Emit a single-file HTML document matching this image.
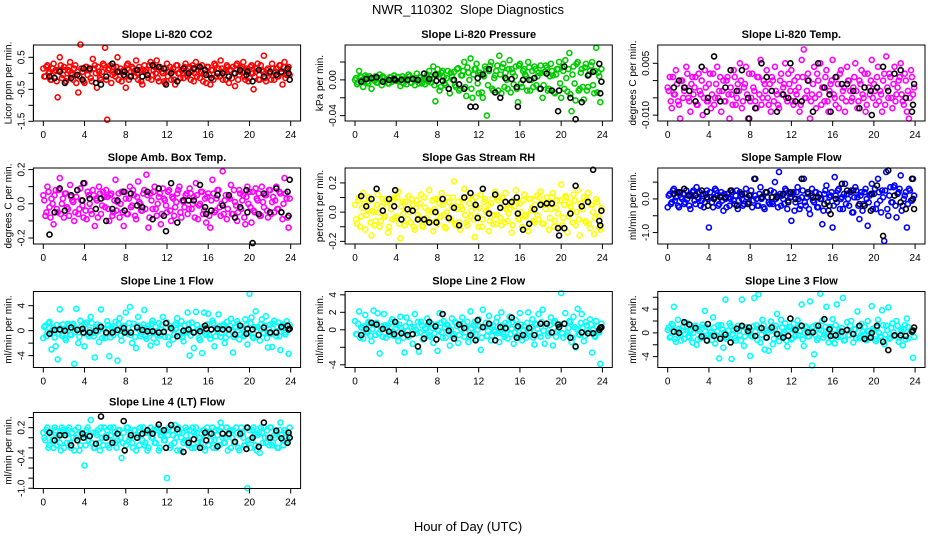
<!DOCTYPE html>
<html><head><meta charset="utf-8"><style>
html,body{margin:0;padding:0;background:#fff;}
svg{display:block;font-family:"Liberation Sans",sans-serif;}
</style></head><body>
<svg id="chart" width="936" height="540" viewBox="0 0 936 540" xmlns="http://www.w3.org/2000/svg">
<rect x="0" y="0" width="936" height="540" fill="#fff"/>
<text x="468" y="14" font-size="13" text-anchor="middle">NWR_110302&#160; Slope Diagnostics</text>
<text x="468" y="531" font-size="13" text-anchor="middle">Hour of Day (UTC)</text>
</svg>
<script>
const hoursColored=[0.0,0.2,0.4,0.6,0.8,1.0,1.2,1.4,1.6,1.8,2.0,2.2,2.4,2.6,2.8,3.0,3.2,3.4,3.6,3.8,4.0,4.2,4.4,4.6,4.8,5.0,5.2,5.4,5.6,5.8,6.0,6.2,6.4,6.6,6.8,7.0,7.2,7.4,7.6,7.8,8.0,8.2,8.4,8.6,8.8,9.0,9.2,9.4,9.6,9.8,10.0,10.2,10.4,10.6,10.8,11.0,11.2,11.4,11.6,11.8,12.0,12.2,12.4,12.6,12.8,13.0,13.2,13.4,13.6,13.8,14.0,14.2,14.4,14.6,14.8,15.0,15.2,15.4,15.6,15.8,16.0,16.2,16.4,16.6,16.8,17.0,17.2,17.4,17.6,17.8,18.0,18.2,18.4,18.6,18.8,19.0,19.2,19.4,19.6,19.8,20.0,20.2,20.4,20.6,20.8,21.0,21.2,21.4,21.6,21.8,22.0,22.2,22.4,22.6,22.8,23.0,23.2,23.4,23.6,23.8];
const hoursColored2=[0.1,0.3,0.5,0.7,0.9,1.1,1.3,1.5,1.7,1.9,2.1,2.3,2.5,2.7,2.9,3.1,3.3,3.5,3.7,3.9,4.1,4.3,4.5,4.7,4.9,5.1,5.3,5.5,5.7,5.9,6.1,6.3,6.5,6.7,6.9,7.1,7.3,7.5,7.7,7.9,8.1,8.3,8.5,8.7,8.9,9.1,9.3,9.5,9.7,9.9,10.1,10.3,10.5,10.7,10.9,11.1,11.3,11.5,11.7,11.9,12.1,12.3,12.5,12.7,12.9,13.1,13.3,13.5,13.7,13.9,14.1,14.3,14.5,14.7,14.9,15.1,15.3,15.5,15.7,15.9,16.1,16.3,16.5,16.7,16.9,17.1,17.3,17.5,17.7,17.9,18.1,18.3,18.5,18.7,18.9,19.1,19.3,19.5,19.7,19.9,20.1,20.3,20.5,20.7,20.9,21.1,21.3,21.5,21.7,21.9,22.1,22.3,22.5,22.7,22.9,23.1,23.3,23.5,23.7,23.9];
const hoursBlack=[0.6,1.1,1.6,2.1,2.7,3.3,3.8,3.9,4.5,5.1,5.6,6.1,6.7,7.2,7.8,7.9,8.5,9.1,9.6,10.1,10.6,11.2,11.7,11.9,12.4,13.0,13.6,14.1,14.6,15.2,15.7,15.8,16.3,16.9,17.4,18.0,18.6,19.1,19.7,19.8,20.3,20.9,21.4,22.0,22.6,23.1,23.7,23.8,23.9];
const xTicks=[0,4,8,12,16,20,24];

const co2Vals=[0.15,-0.1,0.25,0.05,-0.2,0.3,0.1,-0.75,0.5,-0.15, 0.2,-0.25,0.1,0.35,-0.05,0.15,-0.3,-0.6,0.9,0.05, -0.3,0.2,0.1,-0.15,0.45,0.25,-0.45,0.05,-0.2,0.3, 0.8,-1.45,0.15,-0.3,0.2,-0.1,0.5,0.05,-0.25,0.1, -0.45,0.3,-0.1,0.2,0.05,0.4,-0.2,0.1,-0.35,0.25, 0.1,-0.15,0.35,-0.05,0.2,0.4,-0.25,0.15,0.0,-0.3, 0.3,0.05,-0.2,0.15,-0.35,0.25,0.0,0.1,-0.15,0.3, -0.1,0.2,0.05,-0.25,0.35,0.1,-0.15,0.25,0.0,-0.3, 0.2,-0.35,0.1,0.3,-0.1,0.15,0.4,-0.2,0.05,0.25, -0.3,0.1,0.2,-0.4,0.3,-0.05,0.15,0.35,-0.2,0.1, -0.15,0.25,-0.5,0.05,0.3,-0.2,0.1,0.55,-0.25,0.15, 0.0,0.3,-0.2,0.15,-0.1,0.25,-0.35,0.35,-0.05,0.2];
const co2Core=[-0.1,0.2,0.0,-0.2,0.15,0.05,-0.25,0.1,0.25,-0.05, 0.1,-0.15,0.2,0.0,-0.2,0.25,0.05,-0.1,0.15,-0.25, 0.2,-0.05,0.1,-0.25,0.15,0.0,0.2,-0.15,0.05,0.25, -0.2,0.1,0.25,-0.05,0.0,0.2,-0.2,0.15,0.05,-0.1, 0.25,-0.2,0.05,0.15,-0.1,0.0,0.2,-0.25,0.1,0.05, -0.05,0.25,-0.2,0.1,0.0,-0.15,0.2,0.05,-0.25,0.15, -0.1,0.2,0.05,-0.2,0.25,0.0,-0.15,0.1,0.2,-0.05, 0.15,-0.2,0.25,0.0,-0.1,0.2,0.05,-0.25,0.1,0.2, -0.05,0.1,-0.2,0.25,0.0,-0.1,0.15,0.05,-0.2,0.2, 0.1,-0.15,0.0,0.25,-0.2,0.05,0.2,-0.1,0.15,-0.25, 0.2,0.0,-0.1,0.15,-0.2,0.25,0.05,-0.15,0.1,0.0, -0.2,0.15,0.05,-0.1,0.25,0.0,0.2,-0.15,0.1,-0.05];
const co2Black=[-0.1,-0.15,0.05,-0.3,-0.15,-0.05,-0.2,0.15,0.15,-0.3,-0.35,-0.1,0.3,0.05,-0.05,0.05,-0.1,0.1,-0.1,-0.05,0.25,0.2,0.15,-0.35,0.0,-0.25,0.15,0.0,0.15,0.2,0.1,-0.05,-0.15,0.0,0.0,-0.1,0.0,0.1,-0.05,0.05,-0.25,0.1,-0.1,0.05,-0.05,0.05,0.15,0.0,-0.2];

const presVals=[0.0,-0.005,0.01,0.003,-0.008,0.005,-0.002,0.004,-0.01,0.002, 0.004,-0.003,0.006,-0.006,0.002,0.0,-0.004,0.003,-0.002,0.005, -0.001,0.003,-0.007,0.004,0.001,-0.005,0.006,-0.003,0.002,-0.006, 0.007,-0.004,0.003,0.001,-0.005,0.006,0.01,-0.003,0.015,-0.024, 0.012,-0.012,0.008,0.003,-0.006,0.01,-0.015,0.004,0.009,-0.008, 0.013,-0.01,0.005,0.02,-0.018,0.008,0.024,-0.02,0.012,0.018, -0.015,0.006,-0.02,0.015,-0.04,0.01,0.02,-0.012,0.005,0.016, 0.027,-0.015,0.018,0.008,-0.01,0.022,0.012,-0.005,0.015,-0.025, 0.018,-0.008,0.012,0.004,0.02,-0.012,0.01,0.015,-0.006,0.008, 0.016,-0.02,0.009,0.014,-0.01,0.018,0.005,-0.015,0.012,0.02, -0.02,0.01,0.022,-0.013,0.03,-0.035,0.015,-0.023,0.02,-0.01, 0.012,-0.022,0.018,-0.008,0.01,0.02,-0.015,0.036,0.008,-0.025];
const presCore=[0.002,-0.003,0.004,0.0,-0.002,0.003,-0.004,0.001,0.002,-0.001, -0.003,0.002,0.0,0.004,-0.002,0.001,-0.004,0.003,0.0,-0.001, 0.003,-0.002,0.001,-0.004,0.002,0.0,0.004,-0.003,0.001,0.002, -0.001,0.003,-0.004,0.002,0.0,-0.002,0.004,0.001,-0.006,0.005, 0.006,-0.008,0.01,-0.004,0.002,-0.01,0.008,0.0,-0.006,0.012, -0.012,0.005,0.01,-0.008,0.014,0.0,-0.01,0.006,0.012,-0.004, 0.008,-0.014,0.004,0.012,-0.006,0.016,-0.01,0.002,0.01,-0.012, 0.006,0.014,-0.008,0.0,0.012,-0.014,0.008,0.004,-0.01,0.016, -0.004,0.01,0.006,-0.012,0.014,0.0,-0.008,0.012,0.004,-0.01, 0.008,-0.006,0.016,-0.012,0.004,0.01,-0.014,0.006,0.012,-0.004, 0.014,-0.01,0.002,0.012,-0.016,0.006,-0.004,0.018,-0.012,0.008, -0.008,0.014,-0.012,0.006,0.016,-0.006,0.01,-0.014,0.004,0.012];
const presBlack=[-0.002,0.001,0.002,0.003,-0.002,0.0,0.001,0.0,0.0,0.0,0.001,0.0,0.007,0.001,0.006,-0.001,-0.001,-0.01,0.0,-0.005,-0.01,-0.03,-0.03,0.002,0.006,0.012,-0.014,-0.02,0.002,0.001,-0.008,-0.03,0.0,0.0,0.002,-0.01,0.007,-0.012,-0.035,-0.012,0.015,-0.02,-0.044,-0.025,0.005,0.009,0.018,-0.015,-0.002];

const liTempVals=[-0.002,0.001,-0.008,-0.004,0.003,-0.006,-0.011,0.0,-0.003,0.004, -0.005,-0.009,0.001,-0.002,-0.007,0.002,-0.004,-0.01,0.003,-0.006, -0.001,-0.008,0.002,-0.005,0.004,-0.003,-0.009,0.0,-0.006,0.001, -0.011,-0.004,0.003,-0.007,-0.001,0.005,-0.008,-0.002,0.004,-0.011, -0.006,0.002,-0.003,-0.008,0.001,0.006,-0.005,-0.001,0.003,-0.007, -0.009,0.0,0.004,-0.004,-0.008,0.002,-0.002,0.005,-0.006,-0.001, 0.003,-0.007,-0.003,0.001,-0.009,0.006,0.009,-0.005,0.002,-0.011, -0.004,0.004,-0.008,0.0,0.005,-0.002,-0.006,0.003,-0.009,-0.001, 0.006,-0.005,0.001,-0.008,0.003,-0.003,-0.009,0.004,0.0,-0.006, -0.002,0.005,-0.008,0.0,0.003,-0.005,-0.009,0.002,-0.004,0.006, -0.001,-0.007,0.004,-0.003,-0.009,0.002,0.007,-0.005,0.001,-0.008, 0.004,-0.004,0.0,0.005,-0.006,0.002,-0.009,-0.011,0.003,-0.004];
const liTempCore=[-0.003,-0.006,0.001,-0.004,-0.001,-0.007,0.0,-0.005,-0.002,0.002, -0.006,-0.001,-0.004,0.001,-0.007,-0.003,0.0,-0.005,-0.002,-0.006, 0.002,-0.004,-0.007,-0.001,-0.005,0.001,-0.003,-0.006,0.0,-0.004, -0.002,-0.007,0.001,-0.005,-0.003,0.0,-0.006,-0.001,-0.004,0.002, -0.005,-0.002,-0.006,0.001,-0.004,-0.007,0.0,-0.003,-0.005,-0.001, 0.001,-0.006,-0.003,-0.007,0.0,-0.004,-0.001,-0.005,0.002,-0.003, -0.006,0.0,-0.004,-0.002,-0.007,0.001,-0.005,-0.003,0.0,-0.006, -0.001,-0.005,0.002,-0.004,-0.007,-0.002,0.001,-0.006,-0.003,0.0, -0.004,-0.007,-0.001,0.002,-0.005,-0.002,-0.006,0.0,-0.003,-0.005, 0.001,-0.003,-0.006,-0.001,-0.004,0.002,-0.007,-0.002,0.0,-0.005, -0.003,0.001,-0.006,-0.004,0.0,-0.007,-0.002,0.002,-0.005,-0.001, -0.006,-0.002,0.001,-0.004,-0.007,0.0,-0.003,-0.005,0.001,-0.002];
const liTempBlack=[-0.002,0.0,-0.002,-0.003,-0.006,0.004,-0.009,-0.005,0.007,-0.006,-0.002,0.003,-0.003,0.003,-0.005,-0.011,-0.008,0.005,0.001,-0.003,-0.009,-0.004,-0.005,0.005,-0.006,-0.006,0.0,-0.009,0.005,-0.002,-0.004,-0.009,0.001,-0.001,-0.001,-0.003,-0.008,-0.002,-0.003,-0.01,-0.002,0.004,-0.003,0.002,0.003,-0.005,-0.009,-0.007,-0.001];

const ambVals=[0.05,-0.07,0.1,-0.02,0.03,-0.12,0.08,-0.05,0.15,0.0, -0.08,0.06,-0.03,0.11,0.02,-0.1,0.04,-0.06,0.09,-0.01, 0.12,-0.09,0.05,-0.04,0.08,-0.13,0.02,0.1,-0.06,0.07, -0.02,0.04,-0.1,0.06,-0.05,0.14,0.01,-0.08,0.07,-0.13, 0.03,-0.06,0.1,-0.01,0.05,-0.09,0.13,0.0,-0.04,0.08, 0.17,-0.14,0.06,-0.03,0.1,-0.07,0.04,-0.12,0.09,0.02, -0.05,0.08,-0.1,0.03,-0.02,0.06,0.1,-0.08,0.01,0.05, -0.06,0.09,-0.03,0.04,0.12,-0.09,0.0,0.07,-0.04,-0.11, 0.06,-0.14,0.14,-0.05,0.03,0.08,-0.07,0.19,0.02,-0.09, 0.04,0.11,-0.06,0.01,-0.1,0.08,-0.03,0.05,-0.12,0.1, 0.07,-0.11,-0.04,0.09,0.02,-0.07,0.1,-0.02,0.05,-0.08, 0.08,0.01,-0.05,0.1,-0.03,0.06,-0.09,0.15,0.03,-0.14];
const ambCore=[0.02,-0.05,0.07,-0.08,0.0,0.05,-0.03,0.08,-0.06,0.03, 0.06,-0.02,-0.07,0.04,0.01,-0.05,0.08,-0.03,0.02,-0.08, -0.04,0.07,0.0,-0.06,0.05,0.03,-0.08,0.06,-0.01,0.04, 0.08,-0.03,0.05,-0.07,0.02,-0.04,0.06,0.0,-0.05,0.07, -0.06,0.03,-0.02,0.08,-0.07,0.04,0.01,-0.04,0.06,-0.03, 0.05,-0.08,0.02,0.07,-0.03,0.0,0.06,-0.06,0.03,-0.01, 0.07,-0.04,0.04,-0.07,0.01,0.08,-0.05,0.02,-0.02,0.06, -0.03,0.06,0.0,-0.08,0.05,-0.01,0.07,-0.06,0.03,0.04, -0.07,0.02,0.06,-0.04,0.08,-0.02,0.0,-0.06,0.05,-0.03, 0.03,-0.06,0.08,-0.01,-0.05,0.06,0.02,-0.08,0.04,0.0, -0.02,0.07,-0.05,0.03,0.06,-0.07,0.01,0.05,-0.04,0.08, -0.06,0.04,0.02,-0.03,0.07,-0.05,0.0,0.06,-0.08,0.03];
const ambBlack=[-0.18,-0.05,0.09,-0.04,0.05,0.08,0.02,0.12,0.03,-0.03,0.03,-0.1,-0.03,0.02,0.07,-0.04,0.06,-0.01,-0.02,0.07,-0.09,0.09,-0.07,-0.16,0.12,-0.11,0.02,0.02,0.02,0.11,-0.02,-0.06,-0.04,0.05,-0.01,0.05,-0.08,-0.02,0.08,-0.05,-0.23,-0.06,0.06,-0.05,0.09,-0.05,0.07,-0.07,0.14];

const rhVals=[0.05,-0.08,0.1,-0.03,0.13,-0.12,0.02,0.08,-0.16,0.0, -0.06,0.12,-0.1,0.04,-0.02,0.09,-0.14,0.06,-0.05,0.1, -0.03,0.14,-0.18,0.07,-0.09,0.02,0.11,-0.07,0.05,-0.12, 0.08,-0.04,0.12,-0.1,0.03,-0.06,0.15,0.0,-0.13,0.09, -0.08,0.06,0.13,-0.02,-0.11,0.1,-0.05,0.04,0.21,-0.09, 0.07,-0.12,0.02,0.16,-0.07,0.11,-0.03,0.08,-0.17,0.04, -0.1,0.12,-0.05,0.09,0.01,-0.13,0.06,-0.08,0.14,-0.02, 0.1,-0.09,0.04,0.13,-0.06,0.02,-0.14,0.08,0.15,-0.04, 0.06,-0.1,0.12,-0.02,-0.13,0.09,0.03,-0.07,0.11,-0.05, 0.14,-0.08,0.05,0.1,-0.12,0.02,0.13,-0.06,0.08,-0.1, 0.19,-0.04,0.11,-0.14,0.06,0.0,0.12,-0.09,0.15,-0.16, 0.04,0.1,-0.07,0.13,-0.11,0.05,-0.15,0.09,-0.03,-0.12];
const rhCore=[-0.05,0.08,-0.1,0.03,0.06,-0.02,0.1,-0.07,0.01,-0.09, 0.05,0.0,-0.06,0.09,-0.03,0.07,-0.1,0.02,0.08,-0.04, 0.1,-0.08,0.04,-0.01,0.07,-0.05,0.0,0.09,-0.1,0.03, -0.02,0.06,-0.09,0.1,-0.04,0.01,-0.07,0.08,0.02,-0.06, 0.09,-0.03,0.05,-0.1,0.0,0.07,-0.05,0.1,-0.08,0.02, -0.07,0.04,0.09,-0.02,-0.09,0.06,0.01,-0.05,0.1,-0.03, 0.03,-0.1,0.07,0.0,0.05,-0.06,0.09,-0.02,-0.08,0.08, -0.04,0.1,-0.07,0.02,-0.01,0.06,-0.09,0.04,0.07,-0.05, 0.0,0.08,-0.03,-0.1,0.09,0.01,-0.06,0.05,-0.02,0.1, 0.06,-0.08,0.02,0.07,-0.04,0.1,-0.1,0.03,-0.01,0.08, -0.09,0.05,0.1,-0.03,0.04,-0.07,0.08,0.0,-0.05,0.06, 0.02,-0.06,0.09,-0.08,0.05,0.0,-0.04,0.07,-0.1,0.03];
const rhBlack=[0.11,0.04,0.09,0.16,0.01,0.09,0.04,0.15,-0.05,0.02,0.01,-0.05,-0.05,-0.07,0.0,-0.07,0.09,-0.04,0.03,-0.09,0.1,0.13,0.05,-0.04,0.16,-0.01,0.12,0.03,0.07,0.07,0.1,-0.01,-0.12,-0.08,0.02,0.05,0.06,0.06,-0.11,-0.16,-0.11,-0.01,0.18,0.04,0.07,0.29,-0.06,-0.09,0.01];

const sampleVals=[-0.25,0.15,-0.1,0.3,0.05,-0.2,0.2,0.0,-0.15,0.25, 0.1,-0.3,0.2,-0.05,0.35,0.0,-0.2,0.15,-0.1,0.25, -0.85,0.05,-0.25,0.3,0.1,-0.15,0.2,-0.35,0.0,0.15, -0.2,0.25,-0.05,0.1,-0.3,0.2,0.0,-0.15,0.3,-0.1, 0.1,-0.25,0.6,0.0,-0.2,0.35,0.05,-0.3,0.2,-0.1, 0.25,-0.15,0.5,0.1,0.8,-0.2,0.0,0.3,-0.3,0.15, -0.65,0.2,-0.1,0.35,-0.3,0.05,0.6,-0.2,0.15,-0.45, 0.3,-0.1,0.2,-0.25,0.0,-0.75,0.15,0.4,-0.35,0.1, -0.85,0.65,-0.1,0.3,0.0,-0.3,0.45,0.15,-0.2,0.25, -0.4,0.35,0.05,-0.6,0.2,-0.15,0.3,-0.8,0.1,0.45, 0.15,-0.3,0.6,-0.05,0.25,-1.25,0.8,-0.5,0.35,-0.1, 0.4,-0.55,0.2,0.7,-0.2,0.1,-0.85,0.3,-0.05,0.6];
const sampleCore=[0.1,-0.15,0.25,-0.05,0.2,-0.25,0.05,0.15,-0.1,0.0, -0.2,0.1,0.25,-0.15,0.05,0.2,-0.05,-0.25,0.15,0.0, 0.2,-0.1,0.05,0.25,-0.2,0.1,-0.05,0.15,-0.25,0.05, 0.0,0.2,-0.15,0.25,-0.05,0.1,-0.2,0.15,0.05,-0.1, 0.25,-0.05,0.1,-0.2,0.15,0.0,-0.25,0.2,0.05,-0.15, -0.1,0.2,0.0,-0.25,0.15,0.1,-0.15,0.25,-0.05,0.05, 0.15,-0.35,0.2,0.0,-0.2,0.25,-0.1,0.05,-0.3,0.1, -0.05,0.2,-0.25,0.15,0.0,-0.35,0.25,-0.1,0.05,0.2, -0.2,0.1,0.25,-0.3,0.05,0.15,-0.15,0.0,0.2,-0.4, 0.05,0.25,-0.2,0.1,-0.35,0.2,0.0,-0.1,0.15,-0.3, 0.3,-0.15,0.2,-0.4,0.05,0.25,-0.3,0.1,-0.1,0.35, -0.2,0.15,0.3,-0.35,0.0,0.2,-0.15,0.25,-0.05,0.1];
const sampleBlack=[0.15,0.2,0.3,0.1,0.1,0.25,0.05,-0.2,0.0,0.05,0.05,0.25,-0.2,0.15,-0.15,0.1,0.6,0.05,0.2,0.05,0.05,0.15,-0.1,0.2,0.0,0.6,0.2,0.05,0.05,-0.15,-0.2,-0.45,0.0,0.45,0.25,0.25,-0.15,-0.2,-0.35,0.15,0.4,-1.1,0.85,0.1,-0.1,-0.3,0.6,0.0,-0.3];

const line1Vals=[-1.2,0.8,-0.3,1.4,-3.0,0.5,-2.5,-4.6,3.4,-0.8, 0.3,-1.5,1.1,-0.6,0.9,-5.3,3.5,-2.0,1.6,0.2, -2.5,1.3,-0.9,2.2,-0.4,-4.3,1.0,-1.8,3.4,0.4, -1.2,1.5,-4.1,0.6,-0.7,1.4,-4.8,2.0,-1.6,0.7, 2.9,-0.5,3.8,-2.0,1.1,-2.8,2.2,-0.9,0.5,3.3, -1.3,0.8,-2.4,1.6,-0.2,-1.9,1.2,-0.6,2.2,-1.0, 1.3,-2.2,0.4,-1.4,0.9,2.0,-0.8,1.5,-1.7,-0.3, 2.9,-4.0,1.3,-2.8,3.0,0.2,-1.5,-3.6,2.9,-0.7, 2.7,-1.3,1.6,-2.5,0.3,2.6,-1.0,0.7,-2.0,1.4, -0.6,1.9,-3.5,0.5,1.5,-1.4,0.4,-0.9,1.8,-2.2, 5.9,2.1,-1.2,3.1,0.6,-1.6,1.8,-0.4,2.3,-2.7, 1.0,-2.6,1.6,-0.9,1.3,-3.1,0.7,-0.3,1.5,-3.7];
const line1Core=[0.6,-0.9,1.2,-0.3,0.2,-1.1,0.9,-0.5,0.0,1.0, -1.2,0.4,0.8,-0.7,1.1,-0.2,0.3,-1.0,0.7,-0.4, 1.0,-0.6,0.1,1.2,-0.9,0.5,-0.1,0.8,-1.2,0.3, -0.5,0.9,-1.1,0.2,0.6,-0.3,1.1,-0.8,0.0,0.7, -0.2,1.2,-0.7,0.4,-1.0,0.8,0.1,-0.5,1.0,-0.9, 0.3,-0.4,1.1,-1.2,0.6,0.0,-0.8,0.9,-0.1,0.5, -1.0,0.7,0.2,-0.6,1.2,-0.3,0.4,-1.1,0.8,0.0, 1.1,-0.8,0.5,-0.2,0.9,-1.2,0.3,0.6,-0.5,1.0, -0.7,0.2,1.2,-0.9,0.0,0.7,-0.4,1.0,-1.1,0.4, 0.8,-0.1,-1.0,0.5,1.1,-0.6,0.3,-0.8,0.9,-0.3, 1.2,-1.0,0.6,0.1,-0.7,1.0,-0.4,0.8,-1.2,0.2, -0.5,1.1,-0.2,0.7,-0.9,0.4,1.0,-0.6,0.0,0.9];
const line1Black=[-0.5,0.1,0.2,0.0,0.5,0.1,0.3,-0.3,-0.3,0.0,0.6,-0.3,-0.3,0.1,0.4,-0.3,-0.3,0.5,0.1,-0.1,-0.1,-0.3,-0.2,1.2,0.4,-0.9,0.0,0.2,-0.3,-0.1,0.8,0.3,0.2,0.3,0.2,0.2,-0.6,0.8,-0.5,0.3,0.2,-0.7,0.5,-0.3,-0.3,0.6,0.8,0.2,0.3];

const line2Vals=[1.0,-0.5,2.1,0.3,-1.0,1.7,-0.2,0.8,-1.3,2.2, -0.6,1.9,-2.7,0.4,1.8,-0.9,0.5,-0.3,1.2,-0.7, 0.6,-1.3,1.5,-0.2,-2.6,1.4,-0.8,0.3,-1.6,1.8, -0.4,-2.5,0.9,-1.1,0.2,1.3,-0.6,0.7,-1.5,0.4, -2.4,1.9,-0.3,1.0,-0.9,0.5,-1.8,1.3,-0.5,0.8, -1.5,0.6,1.4,-0.8,0.2,-1.4,2.1,-0.4,0.9,-1.1, 1.2,-2.3,2.3,0.3,-0.7,1.6,-1.2,0.5,-0.2,1.4, -1.4,2.0,-0.5,0.8,-1.0,1.5,0.1,-1.6,1.1,-0.6, 1.9,-1.2,0.4,-0.9,2.0,-0.3,1.2,-1.7,0.6,1.8, -0.8,2.3,-1.6,0.7,-0.4,1.4,-1.8,1.0,-0.2,0.5, 4.2,-0.9,1.9,-0.3,1.0,-1.4,1.5,-2.0,2.4,-0.6, 1.8,-1.3,0.9,-0.4,1.2,-2.6,-0.7,1.0,-0.2,-3.9];
const line2Core=[-0.5,0.7,-0.9,0.2,0.4,-0.3,0.9,-0.7,0.1,0.6, 0.8,-0.4,0.0,-0.8,0.5,0.3,-0.6,0.9,-0.2,0.1, -0.7,0.6,0.2,-0.9,0.4,-0.1,0.8,-0.5,0.3,0.0, 0.9,-0.3,0.5,-0.6,0.1,0.7,-0.8,0.2,-0.4,0.6, -0.1,0.8,-0.9,0.3,0.6,-0.2,0.0,-0.7,0.9,0.4, -0.6,0.1,0.7,-0.3,0.9,-0.8,0.2,0.5,-0.5,0.0, 0.4,-0.9,0.3,0.8,-0.1,0.6,-0.7,0.0,0.9,-0.4, -0.2,0.5,-0.8,0.1,0.7,-0.5,0.9,-0.3,0.2,-0.9, 0.6,0.0,-0.6,0.8,-0.2,0.3,-0.9,0.7,0.1,-0.4, 0.9,-0.1,0.4,-0.7,0.5,-0.3,0.8,-0.8,0.0,0.6, -0.4,0.7,-0.6,0.2,0.9,-0.9,0.3,0.1,-0.5,0.8, 0.2,-0.7,0.5,-0.2,0.6,0.0,-0.8,0.4,-0.3,0.7];
const line2Black=[-0.6,0.1,0.8,0.6,0.1,-0.2,-0.5,0.9,-0.4,-0.6,-0.5,-1.9,-1.0,0.9,0.4,-1.1,1.8,-0.1,-1.0,0.6,0.2,-0.6,-1.2,1.1,0.3,0.7,-1.2,0.3,0.2,1.4,-0.9,0.4,-0.6,0.2,-0.6,0.7,0.7,-0.3,0.6,0.3,0.7,-0.9,-1.9,-0.3,-0.4,-0.4,0.0,0.2,0.3];

const line3Vals=[0.5,-0.8,1.5,4.4,-1.5,2.2,-0.3,0.9,-1.0,1.7, -0.6,0.3,-1.6,1.2,-2.0,0.6,-0.9,1.4,3.7,-1.2, 0.8,-0.4,2.6,-1.8,0.2,-4.3,1.3,-2.5,5.6,-0.7, 1.6,-4.4,0.4,-1.3,1.2,-0.4,5.6,-2.2,1.0,0.2, -3.9,-0.6,5.9,1.3,6.5,-1.6,2.2,-2.8,0.4,-3.0, 1.9,-1.9,0.7,3.2,-1.4,2.2,-0.2,1.6,-2.3,1.0, -1.1,1.5,-0.5,2.1,0.3,4.8,-2.2,1.1,-0.6,5.3, -5.5,-3.6,1.3,-0.9,6.6,2.0,-0.3,4.4,-1.6,1.0, 2.3,-1.8,4.8,0.5,-0.7,5.9,-1.2,1.8,-0.4,2.0, -1.6,0.6,3.6,-0.9,1.5,-0.3,-1.2,2.0,-0.6,4.5, 0.4,-1.4,2.2,-0.6,3.8,-1.9,1.2,4.3,-0.8,1.6, -0.5,2.0,-1.5,0.6,-2.1,1.3,2.4,-0.9,0.3,-4.2];
const line3Core=[0.9,-0.6,1.3,-1.0,0.2,0.7,-1.3,0.4,-0.2,1.1, -0.8,0.5,0.0,1.2,-1.1,0.3,0.8,-0.5,1.0,-0.3, 0.1,-1.2,0.9,-0.4,1.3,-0.7,0.6,0.0,-1.0,0.4, 1.2,-0.2,-0.9,0.7,0.3,-1.3,1.0,-0.6,0.5,-0.1, -0.5,1.1,0.2,-1.2,0.8,-0.3,1.3,-0.8,0.0,0.6, 0.4,-1.0,1.2,-0.2,-0.7,0.9,0.1,-1.3,0.5,1.0, -0.9,0.3,0.7,-0.4,1.3,-1.1,0.0,0.8,-0.6,0.2, 1.1,-0.3,-1.2,0.6,0.4,-0.8,1.0,-0.1,0.9,-1.0, -0.2,1.3,-0.7,0.1,0.8,-1.3,0.5,-0.4,1.2,0.0, 0.6,-0.9,1.1,-0.5,0.2,1.0,-1.2,0.3,-0.1,0.7, -1.1,0.9,0.0,-0.6,1.3,-0.3,0.5,-1.0,0.8,0.1, -0.4,1.2,-0.8,0.3,0.6,-1.1,1.0,-0.2,0.4,-0.7];
const line3Black=[0.2,0.0,1.8,1.4,0.8,-0.6,-1.3,1.5,-0.5,-1.0,-0.3,-1.6,0.7,1.2,0.3,0.9,-0.5,0.8,-0.8,0.9,-0.2,-0.8,-0.5,2.4,0.5,1.2,0.1,0.1,1.2,2.3,0.6,-0.5,-0.4,0.2,0.5,-0.2,1.2,-1.0,-0.8,0.0,1.2,-1.5,-2.9,-0.4,-0.4,-0.5,0.2,0.4,0.9];

const line4Vals=[0.1,-0.05,0.2,-0.15,0.05,-0.2,0.15,0.0,-0.1,0.2, -0.2,0.05,0.15,-0.1,0.1,-0.25,0.0,0.2,-0.15,0.05, -0.55,0.15,-0.05,0.35,0.1,-0.2,0.05,-0.1,0.2,-0.15, 0.0,0.15,-0.2,0.05,0.2,-0.1,-0.05,0.15,-0.4,0.1, -0.15,0.2,0.0,-0.1,0.15,-0.25,0.05,0.2,-0.05,-0.15, 0.1,-0.2,0.2,0.0,-0.1,0.15,-0.25,0.05,0.1,-0.05, -0.8,0.2,-0.15,0.05,0.25,-0.25,0.1,0.0,-0.1,0.2, -0.05,0.15,-0.2,0.1,0.2,-0.1,0.0,-0.2,0.15,0.05, -0.15,0.1,0.2,-0.05,-0.2,0.15,0.3,0.0,-0.1,0.2, 0.05,-0.2,0.15,-0.1,0.1,-0.25,0.2,0.0,-0.15,-1.0, 0.15,-0.05,0.2,-0.15,0.05,-0.3,0.1,0.2,-0.1,0.0, 0.2,-0.15,0.05,0.1,-0.2,0.3,-0.05,0.15,-0.1,0.05];
const line4Core=[0.0,0.15,-0.2,0.1,-0.05,0.2,-0.15,0.05,-0.25,0.15, 0.1,-0.1,0.2,-0.2,0.0,0.15,-0.05,-0.25,0.1,0.05, -0.15,0.2,0.05,-0.1,-0.2,0.1,0.15,-0.25,0.0,0.2, 0.05,-0.15,0.2,-0.05,0.1,-0.2,0.15,0.0,-0.1,-0.25, 0.2,-0.05,0.1,-0.2,0.15,0.0,-0.15,0.05,0.2,-0.1, -0.25,0.1,0.0,0.15,-0.1,0.2,-0.2,0.05,-0.05,0.15, 0.05,-0.2,0.15,-0.1,0.0,0.2,-0.25,0.1,-0.05,0.15, -0.15,0.05,0.2,-0.2,0.1,0.0,-0.1,0.15,-0.25,0.2, 0.1,-0.05,-0.2,0.15,0.05,-0.15,0.2,-0.1,0.0,-0.25, 0.15,0.0,-0.1,0.2,-0.2,0.05,0.1,-0.15,0.2,-0.05, -0.2,0.15,0.05,-0.25,0.1,0.2,-0.1,0.0,0.15,-0.15, 0.2,-0.1,0.0,-0.2,0.15,0.05,-0.15,0.1,-0.05,0.2];
const line4Black=[0.1,-0.05,0.05,0.05,-0.15,-0.05,0.08,0.0,0.03,-0.12,0.42,0.0,-0.1,0.08,0.33,-0.25,0.05,0.0,0.08,0.15,0.08,0.26,0.15,-0.2,0.25,0.17,-0.28,-0.1,-0.03,-0.2,0.1,-0.05,0.08,-0.17,0.08,0.08,-0.08,0.08,-0.22,0.2,0.0,-0.18,0.3,0.0,0.14,-0.01,-0.1,0.1,0.0];

const panels=[
 {id:'co2',title:'Slope Li-820 CO2',ylab:'Licor ppm per min.',color:'#ff0000',col:0,row:0,ylim:[-1.49,0.885],ticks:[0.5,0,-0.5,-1,-1.5],labels:['0.5','','-0.5','','-1.5'],vals:co2Vals,core:co2Core,blk:co2Black},
 {id:'pressure',title:'Slope Li-820 Pressure',ylab:'kPa per min.',color:'#00cc00',col:1,row:0,ylim:[-0.046,0.039],ticks:[0.02,0,-0.02,-0.04],labels:['','0.00','','-0.04'],vals:presVals,core:presCore,blk:presBlack},
 {id:'li-temp',title:'Slope Li-820 Temp.',ylab:'degrees C per min.',color:'#ff00ff',col:2,row:0,ylim:[-0.0117,0.0103],ticks:[0.005,0,-0.005,-0.010],labels:['0.005','','','-0.010'],vals:liTempVals,core:liTempCore,blk:liTempBlack},
 {id:'amb-box-temp',title:'Slope Amb. Box Temp.',ylab:'degrees C per min.',color:'#ff00ff',col:0,row:1,ylim:[-0.235,0.209],ticks:[0.2,0.1,0,-0.1,-0.2],labels:['0.2','','0.0','','-0.2'],vals:ambVals,core:ambCore,blk:ambBlack},
 {id:'gas-rh',title:'Slope Gas Stream RH',ylab:'percent per min.',color:'#ffff00',col:1,row:1,ylim:[-0.218,0.302],ticks:[0.2,0.1,0,-0.1,-0.2],labels:['0.2','','0.0','','-0.2'],vals:rhVals,core:rhCore,blk:rhBlack},
 {id:'sample-flow',title:'Slope Sample Flow',ylab:'ml/min per min.',color:'#0000ff',col:2,row:1,ylim:[-1.34,0.92],ticks:[0.5,0,-0.5,-1.0],labels:['','0.0','','-1.0'],vals:sampleVals,core:sampleCore,blk:sampleBlack},
 {id:'line1-flow',title:'Slope Line 1 Flow',ylab:'ml/min per min.',color:'#00ffff',col:0,row:2,ylim:[-5.9,6.27],ticks:[4,2,0,-2,-4],labels:['4','','0','','-4'],vals:line1Vals,core:line1Core,blk:line1Black},
 {id:'line2-flow',title:'Slope Line 2 Flow',ylab:'ml/min per min.',color:'#00ffff',col:1,row:2,ylim:[-4.31,4.38],ticks:[4,2,0,-2,-4],labels:['4','2','0','','-4'],vals:line2Vals,core:line2Core,blk:line2Black},
 {id:'line3-flow',title:'Slope Line 3 Flow',ylab:'ml/min per min.',color:'#00ffff',col:2,row:2,ylim:[-5.83,6.97],ticks:[6,4,2,0,-2,-4],labels:['','4','','0','','-4'],vals:line3Vals,core:line3Core,blk:line3Black},
 {id:'line4-flow',title:'Slope Line 4 (LT) Flow',ylab:'ml/min per min.',color:'#00ffff',col:0,row:3,ylim:[-1.005,0.5],ticks:[0.4,0.2,0,-0.2,-0.4,-0.6,-0.8,-1.0],labels:['','0.2','','','-0.4','','','-1.0'],vals:line4Vals,core:line4Core,blk:line4Black}
];

const NS='http://www.w3.org/2000/svg';
const svg=document.getElementById('chart');
const colLeft=[33.4,345.1,657.8], boxW=267.2;
const rowTop=[45,168,291.5,412.5], boxH=76;
function mk(tag,attrs,parent){const e=document.createElementNS(NS,tag);for(const k in attrs)e.setAttribute(k,attrs[k]);(parent||svg).appendChild(e);return e;}

panels.forEach(p=>{
  const L=colLeft[p.col], T=rowTop[p.row], B=T+boxH, R=L+boxW;
  const xs=h=>L+(h+0.96)/25.92*boxW;
  const ys=v=>B-(v-p.ylim[0])/(p.ylim[1]-p.ylim[0])*boxH;
  const g=mk('g',{});
  
  
  const t=mk('text',{x:(L+R)/2,y:T-7,'font-size':11,'font-weight':'bold','text-anchor':'middle'},g);
  t.textContent=p.title;
  
  
  const yl=mk('text',{x:0,y:0,'font-size':10,'text-anchor':'middle',transform:`translate(${L-22},${(T+B)/2}) rotate(-90)`},g);
  yl.textContent=p.ylab;
  
  
  const pts=mk('g',{fill:'none',stroke:p.color,'stroke-width':1.6},g);
  
  
  const n=Math.min(hoursColored.length,p.vals.length);
  for(let i=0;i<n;i++){
    const c=mk('circle',{cx:xs(hoursColored[i]).toFixed(1),cy:ys(p.vals[i]).toFixed(1),r:2.5},pts);
    
    
  }
  const n2=Math.min(hoursColored2.length,p.core.length);
  for(let i=0;i<n2;i++){
    const c=mk('circle',{cx:xs(hoursColored2[i]).toFixed(1),cy:ys(p.core[i]).toFixed(1),r:2.5},pts);
    
    
  }
  const bp=mk('g',{fill:'none',stroke:'#000','stroke-width':1.6},g);
  
  
  const m=Math.min(hoursBlack.length,p.blk.length);
  for(let i=0;i<m;i++){
    const c=mk('circle',{cx:xs(hoursBlack[i]).toFixed(1),cy:ys(p.blk[i]).toFixed(1),r:2.5},bp);
    
    
  }
  const box=mk('rect',{x:L,y:T,width:boxW,height:boxH,fill:'none',stroke:'#000','stroke-width':1},g);
  
  
  const ax=mk('g',{},g);
  
  
  mk('line',{x1:xs(0),x2:xs(24),y1:B,y2:B,stroke:'#000'},ax);
  xTicks.forEach(h=>{
    mk('line',{x1:xs(h),x2:xs(h),y1:B,y2:B+5,stroke:'#000'},ax);
    const tl=mk('text',{x:xs(h),y:B+17,'font-size':10,'text-anchor':'middle'},ax);
    tl.textContent=String(h);
    
    
  });
  const ay=mk('g',{},g);
  
  
  mk('line',{x1:L,x2:L,y1:ys(p.ticks[0]),y2:ys(p.ticks[p.ticks.length-1]),stroke:'#000'},ay);
  p.ticks.forEach((v,i)=>{
    const y=ys(v);
    mk('line',{x1:L-5,x2:L,y1:y,y2:y,stroke:'#000'},ay);
    if(p.labels[i]){
      const tl=mk('text',{x:0,y:0,'font-size':10,'text-anchor':'middle',transform:`translate(${L-9},${y}) rotate(-90)`},ay);
      tl.textContent=p.labels[i];
      
      
    }
  });
});
</script>
</body></html>
